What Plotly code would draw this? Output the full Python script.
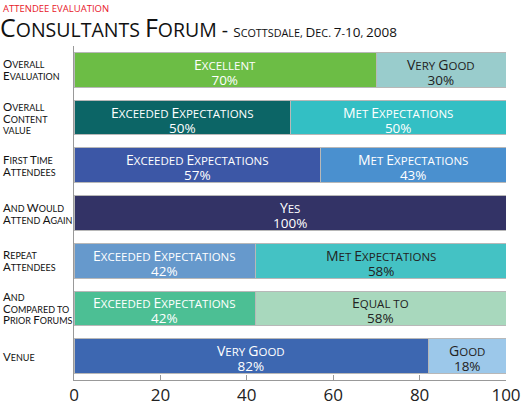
import plotly.graph_objects as go

FONT = "Open Sans"
LABEL_FONT = "Lato"

rows = [
    "Overall\nEvaluation",
    "Overall\nContent\nvalue",
    "First Time\nAttendees",
    "And Would\nAttend Again",
    "Repeat\nAttendees",
    "And\nCompared to\nPrior Forums",
    "Venue",
]
first_labels = ["Excellent", "Exceeded Expectations", "Exceeded Expectations", "Yes",
                "Exceeded Expectations", "Exceeded Expectations", "Very Good"]
first_values = [70, 50, 57, 100, 42, 42, 82]
first_colors = ["#6cbd45", "#0c6566", "#3c57a6", "#333366", "#6699cc", "#4cbf94", "#3d67b1"]
first_text_colors = ["white", "white", "white", "white", "white", "white", "white"]

second_labels = ["Very Good", "Met Expectations", "Met Expectations", "",
                 "Met Expectations", "Equal to", "Good"]
second_values = [30, 50, 43, 0, 58, 58, 18]
second_colors = ["#99cccc", "#33bfc4", "#4a90cf", "#333366", "#44c2c4", "#a8d8bd", "#9cc8ea"]
second_text_colors = ["#222222", "white", "white", "white", "#222222", "#222222", "#222222"]

x_ticks = [0, 20, 40, 60, 80, 100]


def smallcaps(s, big, small):
    # fake small caps: capitals at big size, lowercase as smaller capitals
    lines = []
    for line in s.split("\n"):
        out, run, run_big = "", "", None
        for ch in line:
            is_big = ch.isupper() or ch.isdigit()
            if run and is_big != run_big:
                out += f'<span style="font-size:{big if run_big else small}px">{run}</span>'
                run = ""
            run += ch.upper()
            run_big = is_big
        if run:
            out += f'<span style="font-size:{big if run_big else small}px">{run}</span>'
        lines.append(out)
    return "<br>".join(lines)


fig = go.Figure()
for vals, cols in [(first_values, first_colors), (second_values, second_colors)]:
    fig.add_trace(go.Bar(
        x=vals, y=rows, orientation="h",
        marker=dict(color=cols, line=dict(color="#b8b8b8", width=1)),
        hoverinfo="skip", showlegend=False,
    ))

annotations = []
for i, row in enumerate(rows):
    segs = [(0, first_values[i], first_labels[i], first_text_colors[i]),
            (first_values[i], second_values[i], second_labels[i], second_text_colors[i])]
    for start, val, lab, tc in segs:
        if val <= 0:
            continue
        annotations.append(dict(
            x=start + val / 2, y=row, xref="x", yref="y",
            text=smallcaps(lab, 14, 11.5) + f'<br><span style="font-size:13.5px">{val}%</span>',
            showarrow=False, yshift=-2,
            font=dict(family=FONT, size=11.8, color=tc),
        ))
    annotations.append(dict(
        x=-0.168, y=row, xref="paper", yref="y", xanchor="left",
        align="left", showarrow=False,
        text=smallcaps(row, 11.5, 9),
        font=dict(family=LABEL_FONT, size=9, color="#111111"),
    ))

annotations.append(dict(
    x=-0.168, y=1.113, xref="paper", yref="paper", xanchor="left", yanchor="middle",
    showarrow=False, text="ATTENDEE EVALUATION",
    font=dict(family=FONT, size=9.5, color="#e8202a"),
))
annotations.append(dict(
    x=-0.175, y=1.057, xref="paper", yref="paper", xanchor="left", yanchor="middle",
    showarrow=False,
    text=smallcaps("Consultants Forum - ", 25, 19.5)
    + smallcaps("Scottsdale, Dec. 7-10, 2008", 13.5, 10.8),
    font=dict(family=FONT, size=19.5, color="#111111"),
))

fig.update_layout(
    width=527, height=408,
    margin=dict(l=74, r=21, t=46, b=28),
    barmode="stack", bargap=0.27,
    plot_bgcolor="white", paper_bgcolor="white",
    annotations=annotations,
)
fig.update_xaxes(
    range=[0, 100], tickvals=x_ticks, ticks="inside", ticklen=5, tickcolor="#999999",
    showline=True, linecolor="#999999", showgrid=False, zeroline=False, automargin=False,
    tickfont=dict(family=FONT, size=17, color="#222222"),
)
fig.update_yaxes(
    autorange="reversed", showticklabels=False, showline=True, linecolor="#999999",
    showgrid=False, ticks="", automargin=False,
)

fig.write_html("out.html", config={"displayModeBar": False},
               post_script="document.body.style.margin = '0px';")
